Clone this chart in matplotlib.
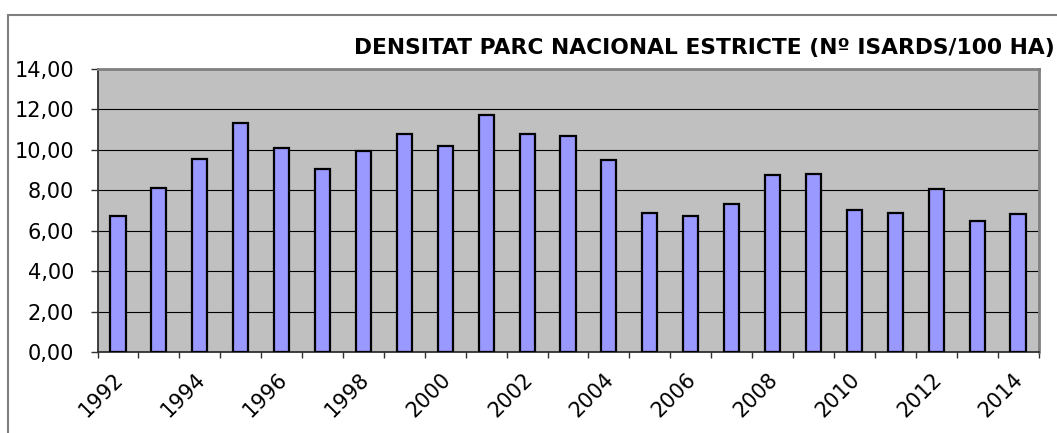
import matplotlib.pyplot as plt
from matplotlib.patches import Rectangle
from matplotlib.ticker import FixedLocator, FuncFormatter

years = list(range(1992, 2015))
densitat = [6.75, 8.10, 9.54, 11.32, 10.08, 9.06, 9.92, 10.79, 10.17, 11.72, 10.79,
            10.69, 9.49, 6.87, 6.73, 7.33, 8.76, 8.83, 7.03, 6.90, 8.07, 6.50, 6.82]
title = "DENSITAT PARC NACIONAL ESTRICTE (Nº ISARDS/100 HA)"

plt.rcParams['font.family'] = ['DejaVu Sans']


def main():
    fig = plt.figure(figsize=(10.57, 4.33), dpi=100)
    # outer chart frame (runs off the right and bottom edges)
    fig.patches.append(Rectangle((8 / 1057, -0.1), 1.2, (433 - 15) / 433 + 0.1,
                                 transform=fig.transFigure, fill=False,
                                 edgecolor='#808080', linewidth=1.5))
    ax = fig.add_axes([97.5 / 1057, 81 / 433, 941 / 1057, 283 / 433])
    ax.set_facecolor('#C0C0C0')

    ind = list(range(len(years)))
    ax.bar(ind, densitat, 0.37, color='#9999FF', edgecolor='black', linewidth=1.6, zorder=3)

    ax.set_xlim(-0.5, len(years) - 0.5)
    ax.set_ylim(0, 14)
    ax.set_yticks(range(0, 15, 2))
    ax.yaxis.set_major_formatter(FuncFormatter(lambda v, p: f"{v:.2f}".replace('.', ',')))
    ax.grid(axis='y', color='black', linewidth=0.8, zorder=1)

    ax.xaxis.set_major_locator(FixedLocator([i - 0.5 for i in range(len(years) + 1)]))
    ax.set_xticklabels([])
    for i, y in enumerate(years):
        if i % 2 == 0:
            ax.text(i - 0.12, -0.85, str(y), rotation=45, ha='right', va='top',
                    rotation_mode='anchor', fontsize=15)

    ax.tick_params(axis='y', direction='out', length=5, width=1, color='#303030',
                   labelsize=15, pad=12)
    ax.tick_params(axis='x', direction='out', length=4.5, width=1, color='#303030')
    for side in ['top', 'right']:
        ax.spines[side].set_color('#808080')
        ax.spines[side].set_linewidth(2)
    for side in ['left', 'bottom']:
        ax.spines[side].set_color('#303030')
        ax.spines[side].set_linewidth(1.3)

    fig.text(1055 / 1057, (433 - 48) / 433, title, ha='right', va='center',
             fontsize=15.7, fontweight='bold')

    fig.savefig('out.png', dpi=100)


if __name__ == "__main__":
    main()
